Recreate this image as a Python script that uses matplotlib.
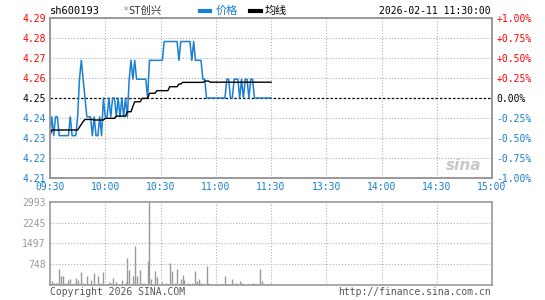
import numpy as np
import matplotlib
matplotlib.use('Agg')
import matplotlib.pyplot as plt

plt.rcParams['font.family'] = ['DejaVu Sans Mono', 'Noto Sans CJK SC']

# minute-by-minute data, 09:30 .. 11:30
price = [4.23, 4.24, 4.23, 4.24, 4.24, 4.23, 4.23, 4.23, 4.23, 4.23,
         4.23, 4.24, 4.23, 4.23, 4.23, 4.24, 4.26, 4.27, 4.26, 4.25,
         4.24, 4.24, 4.24, 4.23, 4.24, 4.23, 4.23, 4.24, 4.23, 4.25,
         4.24, 4.24, 4.25, 4.24, 4.25, 4.25, 4.24, 4.25, 4.24, 4.25,
         4.24, 4.25, 4.24, 4.26, 4.27, 4.26, 4.27, 4.26, 4.26, 4.26,
         4.26, 4.26, 4.26, 4.25, 4.27, 4.27, 4.27, 4.27, 4.27, 4.27,
         4.27, 4.27, 4.28, 4.28, 4.28, 4.28, 4.28, 4.28, 4.28, 4.28,
         4.27, 4.28, 4.28, 4.28, 4.28, 4.28, 4.28, 4.27, 4.28, 4.27,
         4.27, 4.27, 4.27, 4.26, 4.26, 4.25, 4.25, 4.25, 4.25, 4.25,
         4.25, 4.25, 4.25, 4.25, 4.25, 4.25, 4.26, 4.26, 4.25, 4.25,
         4.26, 4.26, 4.26, 4.25, 4.26, 4.25, 4.26, 4.26, 4.25, 4.26,
         4.26, 4.25, 4.25, 4.25, 4.25, 4.25, 4.25, 4.25, 4.25, 4.25,
         4.25]
avg = [4.2303, 4.233, 4.233, 4.233, 4.233, 4.233, 4.233, 4.233, 4.233, 4.233,
       4.233, 4.233, 4.233, 4.233, 4.233, 4.233, 4.2345, 4.236, 4.2375, 4.2386,
       4.2386, 4.2386, 4.2386, 4.2386, 4.2383, 4.2383, 4.2383, 4.2383, 4.2383, 4.2383,
       4.2392, 4.2392, 4.2392, 4.2392, 4.2392, 4.2392, 4.2404, 4.2404, 4.2404, 4.2404,
       4.2404, 4.2404, 4.2427, 4.2427, 4.2427, 4.2455, 4.248, 4.248, 4.248, 4.248,
       4.2498, 4.2498, 4.2498, 4.2498, 4.2525, 4.2525, 4.2525, 4.2525, 4.2539, 4.2539,
       4.2539, 4.2539, 4.2539, 4.2539, 4.2539, 4.256, 4.256, 4.256, 4.256, 4.256,
       4.2574, 4.2574, 4.2583, 4.2583, 4.2583, 4.2583, 4.2583, 4.2583, 4.2583, 4.2583,
       4.2583, 4.2583, 4.2583, 4.2583, 4.259, 4.259, 4.259, 4.2584, 4.2584, 4.2584,
       4.2584, 4.2584, 4.2584, 4.2584, 4.2584, 4.2584, 4.2584, 4.2584, 4.2584, 4.2584,
       4.2584, 4.2584, 4.2584, 4.2584, 4.2584, 4.2584, 4.2584, 4.2584, 4.2584, 4.2584,
       4.2584, 4.2584, 4.2584, 4.2584, 4.2584, 4.2584, 4.2584, 4.2584, 4.2584, 4.2584,
       4.2584]
volume = [60, 156, 80, 70, 60, 587, 311, 311, 60, 40,
          168, 228, 40, 60, 250, 170, 40, 480, 60, 40,
          335, 40, 170, 40, 443, 50, 335, 60, 40, 480,
          50, 40, 100, 70, 263, 40, 90, 30, 40, 190,
          40, 100, 970, 550, 40, 323, 1413, 335, 40, 550,
          70, 70, 40, 875, 2993, 215, 40, 515, 290, 30,
          40, 90, 30, 70, 30, 800, 515, 30, 70, 587,
          40, 215, 371, 190, 30, 70, 40, 70, 30, 515,
          130, 216, 70, 30, 40, 683, 70, 30, 40, 50,
          0, 30, 0, 40, 30, 335, 50, 30, 40, 228,
          40, 70, 30, 156, 70, 40, 30, 0, 50, 30,
          70, 50, 30, 40, 587, 130, 30, 0, 40, 30,
          60]
prev_close = 4.25
time_labels = ['09:30', '10:00', '10:30', '11:00', '11:30', '13:30', '14:00', '14:30', '15:00']
vol_ticks = [748, 1497, 2245, 2993]

RED = '#ff0000'
BLUE = '#1a7fd0'
GRAY = '#999999'
GRID = '#b0b0b0'

fig = plt.figure(figsize=(5.45, 3.0), dpi=100)
ax = fig.add_axes([50 / 545, 122 / 300, 442 / 545, 160 / 300])
axv = fig.add_axes([50 / 545, 15 / 300, 442 / 545, 83.3 / 300])

x = np.arange(len(price))
lo, hi = prev_close * 0.99, prev_close * 1.01
pticks = np.linspace(lo, hi, 9)

ax.set_xlim(0, 240)
ax.set_ylim(lo, hi)
for t in range(30, 240, 30):
    ax.axvline(t, color=GRID, lw=0.8, ls=':')
    axv.axvline(t, color=GRID, lw=0.8, ls=':')
for p in pticks[1:-1]:
    if abs(p - prev_close) < 1e-6:
        continue
    ax.axhline(p, color=GRID, lw=0.8, ls=':')
ax.axhline(prev_close, color='black', lw=0.9, ls=(0, (2, 1.5)))

ax.plot(x, price, color=BLUE, lw=1.1)
ax.plot(x, avg, color='black', lw=1.0)

ax.set_yticks(pticks)
ax.set_yticklabels(['%.2f' % p for p in pticks], fontsize=7)
for lab, p in zip(ax.get_yticklabels(), pticks):
    lab.set_color(RED if p > prev_close + 1e-6 else (BLUE if p < prev_close - 1e-6 else 'black'))
ax.set_xticks(range(0, 241, 30))
ax.set_xticklabels(time_labels, fontsize=7, color=BLUE)
ax.tick_params(length=0, pad=3)

axr = ax.twinx()
axr.set_ylim(-1, 1)
pct = np.linspace(-1, 1, 9)
axr.set_yticks(pct)
axr.set_yticklabels([('%+.2f%%' % v) if abs(v) > 1e-9 else '0.00%' for v in pct], fontsize=7)
for lab, v in zip(axr.get_yticklabels(), pct):
    lab.set_color(RED if v > 1e-9 else (BLUE if v < -1e-9 else 'black'))
axr.tick_params(length=0, pad=3)

for a in (ax, axr, axv):
    for s in a.spines.values():
        s.set_color(GRAY)
        s.set_linewidth(1.2)

# volume panel
axv.vlines(x, 0, volume, color=GRAY, lw=1.0)
axv.set_xlim(0, 240)
axv.set_ylim(0, 2993)
for v in vol_ticks[:-1]:
    axv.axhline(v, color=GRID, lw=0.8, ls=':')
axv.set_yticks(vol_ticks)
axv.set_yticklabels([str(v) for v in vol_ticks], fontsize=7, color=GRAY)
axv.set_xticks([])
axv.tick_params(length=0, pad=3)

# header
fig.text(50 / 545, 1 - 11 / 300, 'sh600193', fontsize=7.5, va='center', ha='left')
fig.text(122 / 545, 1 - 11 / 300, '*', fontsize=7.5, va='center', ha='left', color=GRAY)
fig.text(128 / 545, 1 - 11 / 300, 'ST创兴', fontsize=7.5, va='center', ha='left', color='#333333')
fig.lines.append(plt.Line2D([200 / 545, 210 / 545], [1 - 11 / 300] * 2, color=BLUE, lw=3,
                            transform=fig.transFigure))
fig.text(216 / 545, 1 - 11 / 300, '价格', fontsize=8, va='center', ha='left', color=BLUE)
fig.lines.append(plt.Line2D([250 / 545, 261 / 545], [1 - 11 / 300] * 2, color='black', lw=3,
                            transform=fig.transFigure))
fig.text(265 / 545, 1 - 11 / 300, '均线', fontsize=8, va='center', ha='left', color='black')
fig.text(491 / 545, 1 - 11 / 300, '2026-02-11 11:30:00', fontsize=7, va='center', ha='right')

# footer
fig.text(50 / 545, 1 - 292 / 300, 'Copyright 2026 SINA.COM', fontsize=7, va='center', ha='left', color='#555555')
fig.text(491 / 545, 1 - 292 / 300, 'http://finance.sina.com.cn', fontsize=7, va='center', ha='right', color='#555555')

# watermark
ax.text(0.975, 0.08, 'sina', transform=ax.transAxes, fontsize=11, fontweight='bold',
        fontstyle='italic', family='DejaVu Sans', color='#c8c8c8', ha='right', va='center')

fig.savefig('out.png', dpi=100)
